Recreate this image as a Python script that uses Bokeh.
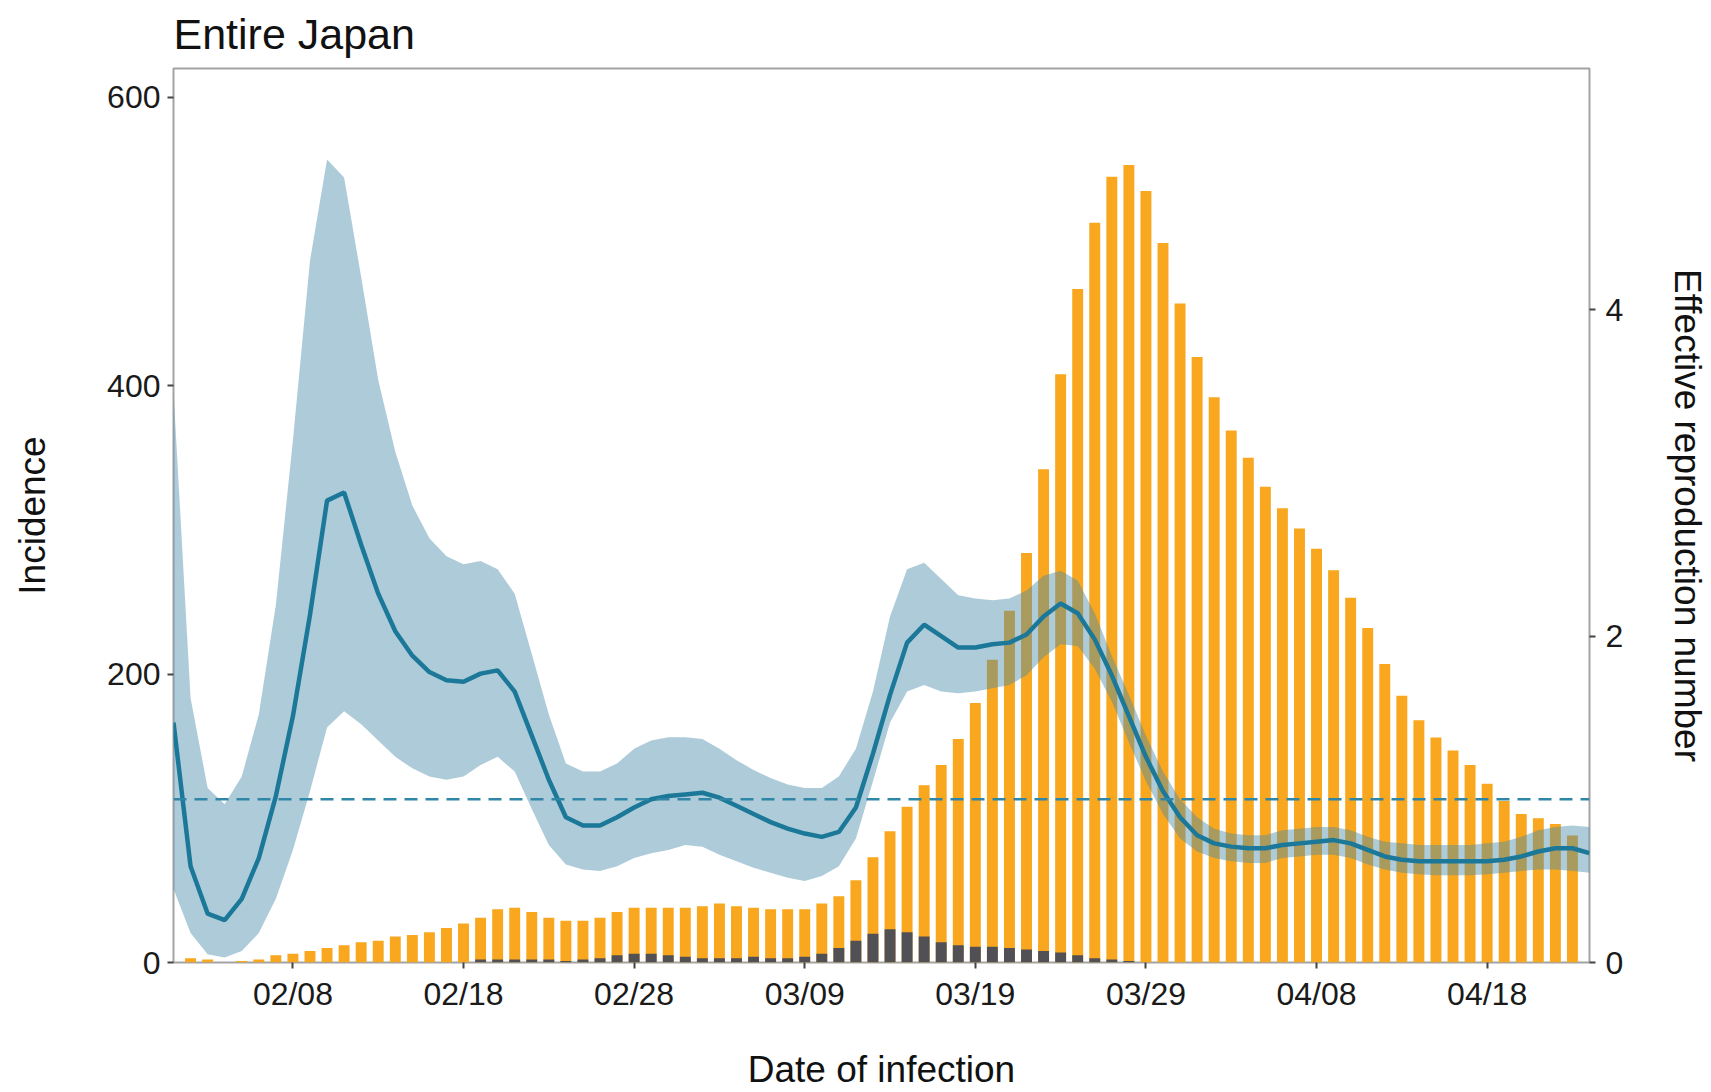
import pandas as pd
from bokeh.plotting import figure
from bokeh.models import (Range1d, LinearAxis, FixedTicker, DatetimeTickFormatter,
                          ColumnDataSource, Span)
from bokeh.embed import file_html
from bokeh.resources import INLINE

# ---------------- data ----------------
title_text = "Entire Japan"
x_label = "Date of infection"
y_left_label = "Incidence"
y_right_label = "Effective reproduction number"

bar_first_date = "2020-02-02"
cases_total = [3, 2, 0, 1, 2, 5, 6, 8, 10, 12, 14, 15, 18, 19, 21, 24, 27, 31, 37, 38,
               35, 31, 29, 29, 31, 35, 38, 38, 38, 38, 39, 41, 39, 38, 37, 37, 37, 41, 46, 57,
               73, 91, 108, 123, 137, 155, 180, 210, 244, 284, 342, 408, 467, 513, 545, 553,
               535, 499, 457, 420, 392, 369, 350, 330, 315, 301, 287, 272, 253, 232, 207, 185,
               168, 156, 147, 137, 124, 112, 103, 100, 96, 88]
cases_imported = [0] * 17 + [2, 2, 2, 2, 2, 1, 2, 3, 5, 6, 6, 5, 4, 3, 3, 3, 4, 3, 3, 4,
                             6, 10, 15, 20, 23, 21, 18, 14, 12, 11, 11, 10, 9, 8, 7, 5, 3, 2, 1] + [0] * 26

r_first_date = "2020-02-01"
r_median = [1.47, 0.59, 0.30, 0.26, 0.39, 0.64, 1.02, 1.51, 2.13, 2.83,
            2.88, 2.56, 2.26, 2.03, 1.88, 1.78, 1.73, 1.72, 1.77, 1.79,
            1.66, 1.39, 1.12, 0.89, 0.84, 0.84, 0.89, 0.95, 1.00, 1.02,
            1.03, 1.04, 1.01, 0.96, 0.91, 0.86, 0.82, 0.79, 0.77, 0.80,
            0.95, 1.28, 1.64, 1.96, 2.07, 2.00, 1.93, 1.93, 1.95, 1.96,
            2.01, 2.12, 2.20, 2.14, 1.98, 1.76, 1.51, 1.26, 1.05, 0.89,
            0.78, 0.73, 0.71, 0.70, 0.70, 0.72, 0.73, 0.74, 0.75, 0.73,
            0.69, 0.65, 0.63, 0.62, 0.62, 0.62, 0.62, 0.62, 0.63, 0.65,
            0.68, 0.70, 0.70, 0.67]
r_upper = [3.50, 1.62, 1.07, 0.97, 1.14, 1.52, 2.19, 3.20, 4.30, 4.92,
           4.81, 4.20, 3.57, 3.13, 2.80, 2.60, 2.49, 2.44, 2.46, 2.41,
           2.26, 1.89, 1.52, 1.22, 1.17, 1.17, 1.22, 1.31, 1.36, 1.38,
           1.38, 1.37, 1.31, 1.24, 1.18, 1.13, 1.09, 1.07, 1.07, 1.14,
           1.31, 1.66, 2.12, 2.41, 2.45, 2.35, 2.25, 2.23, 2.22, 2.23,
           2.28, 2.37, 2.40, 2.34, 2.14, 1.88, 1.64, 1.39, 1.17, 1.00,
           0.89, 0.82, 0.79, 0.78, 0.78, 0.81, 0.82, 0.83, 0.83, 0.81,
           0.77, 0.74, 0.73, 0.72, 0.72, 0.72, 0.72, 0.73, 0.74, 0.77,
           0.81, 0.83, 0.84, 0.83]
r_lower = [0.45, 0.18, 0.05, 0.03, 0.07, 0.18, 0.39, 0.69, 1.05, 1.44,
           1.54, 1.46, 1.36, 1.26, 1.19, 1.14, 1.12, 1.14, 1.21, 1.26,
           1.17, 0.94, 0.72, 0.60, 0.57, 0.56, 0.59, 0.64, 0.67, 0.69,
           0.72, 0.71, 0.66, 0.62, 0.58, 0.55, 0.52, 0.50, 0.53, 0.59,
           0.76, 1.11, 1.47, 1.66, 1.70, 1.66, 1.65, 1.66, 1.68, 1.70,
           1.76, 1.87, 1.95, 1.94, 1.80, 1.60, 1.35, 1.11, 0.91, 0.76,
           0.68, 0.64, 0.62, 0.61, 0.61, 0.64, 0.65, 0.66, 0.66, 0.64,
           0.60, 0.57, 0.55, 0.54, 0.535, 0.535, 0.535, 0.54, 0.55, 0.56,
           0.57, 0.57, 0.56, 0.55]
r_threshold = 1.0

x_start, x_end = "2020-02-01", "2020-04-24"
x_tick_dates = ["2020-02-08", "2020-02-18", "2020-02-28", "2020-03-09",
                "2020-03-19", "2020-03-29", "2020-04-08", "2020-04-18"]
left_ticks = [0, 200, 400, 600]
right_ticks = [0, 2, 4]
left_max = 620
right_max = 5.478

# ---------------- sources ----------------
bar_dates = pd.date_range(bar_first_date, periods=len(cases_total), freq="D")
r_dates = pd.date_range(r_first_date, periods=len(r_median), freq="D")
bars = ColumnDataSource(dict(date=bar_dates, total=cases_total, imported=cases_imported))
rsrc = ColumnDataSource(dict(date=r_dates, med=r_median, lo=r_lower, hi=r_upper))

FONT = "Liberation Sans"
GREY = "#a3a3a3"
W, H = 1711, 1092
FR_L, FR_R, FR_T, FR_B = 173, 1589, 68, 965

p = figure(width=W, height=H, x_axis_type="datetime",
           x_range=Range1d(pd.Timestamp(x_start), pd.Timestamp(x_end)),
           y_range=Range1d(0, left_max),
           output_backend="svg", toolbar_location=None,
           min_border_left=FR_L, min_border_right=W - FR_R,
           min_border_top=FR_T, min_border_bottom=H - FR_B,
           title=title_text)
p.extra_y_ranges = {"R": Range1d(0, right_max)}

bottom_axis = p.below[0]
left_axis = p.left[0]

day_ms = 86400000
p.vbar(x="date", top="total", width=0.64 * day_ms, source=bars,
       fill_color="#F8A71E", line_color=None)
p.vbar(x="date", top="imported", width=0.64 * day_ms, source=bars,
       fill_color="#505055", line_color=None)
p.varea(x="date", y1="lo", y2="hi", source=rsrc, y_range_name="R",
        fill_color="#4a8caa", fill_alpha=0.45)
p.line(x="date", y="med", source=rsrc, y_range_name="R",
       line_color="#1c7898", line_width=4.5)
p.add_layout(Span(location=r_threshold, dimension="width", y_range_name="R",
                  line_color="#2f86a6", line_width=2.5, line_dash="13 8"))

right_axis = LinearAxis(y_range_name="R", axis_label=y_right_label)
p.add_layout(right_axis, "right")

bottom_axis.ticker = FixedTicker(ticks=[pd.Timestamp(d).value // 10**6 for d in x_tick_dates])
bottom_axis.formatter = DatetimeTickFormatter(days="%m/%d", months="%m/%d", years="%m/%d")
left_axis.ticker = FixedTicker(ticks=left_ticks)
right_axis.ticker = FixedTicker(ticks=right_ticks)
bottom_axis.axis_label = x_label
left_axis.axis_label = y_left_label

for ax in [bottom_axis, left_axis, right_axis]:
    ax.axis_line_color = None
    ax.major_tick_line_color = "#444444"
    ax.major_tick_line_width = 2
    ax.major_tick_out = 6
    ax.major_tick_in = 0
    ax.minor_tick_line_color = None
    ax.major_label_text_font = FONT
    ax.major_label_text_font_size = "32px"
    ax.major_label_text_color = "#1a1a1a"
    ax.axis_label_text_font = FONT
    ax.axis_label_text_font_size = "37px"
    ax.axis_label_text_font_style = "normal"
    ax.axis_label_text_color = "#111111"

bottom_axis.major_label_standoff = 7
bottom_axis.axis_label_standoff = 34
left_axis.major_label_standoff = 7
left_axis.axis_label_standoff = 51
right_axis.major_label_standoff = 10
right_axis.axis_label_standoff = 41

p.xgrid.visible = False
p.ygrid.visible = False
p.outline_line_color = GREY
p.outline_line_width = 2
p.background_fill_color = "white"
p.border_fill_color = "white"

p.title.text_font = FONT
p.title.text_font_size = "43px"
p.title.text_font_style = "normal"
p.title.text_color = "#111111"
p.title.align = "left"
p.title.vertical_align = "top"
p.title.standoff = 17

open("out.html", "w").write(file_html(p, INLINE))
